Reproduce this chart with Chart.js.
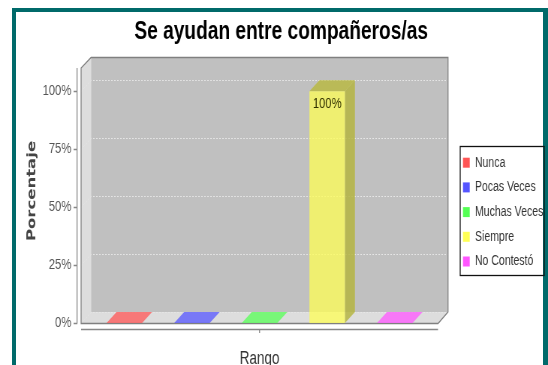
<!DOCTYPE html>
<html lang="es">
<head>
<meta charset="UTF-8" />
<title>Se ayudan entre compañeros/as</title>
<script src="https://cdn.jsdelivr.net/npm/chart.js@4.4.0/dist/chart.umd.min.js"></script>
<style>
html,body{margin:0;background:#fff;overflow:hidden}
#frame{position:absolute;left:12px;top:8px;width:527px;height:400px;border:4px solid #006a6a;border-right-width:5px}
#wrap{position:absolute;left:0;top:0;width:548px;height:365px}
/* the picture is a wider chart squeezed sideways, so the canvas is too */
#chart{width:548px!important;height:365px!important}
</style>
</head>
<body>
<div id="frame"></div>
<div id="wrap"><canvas id="chart" width="730" height="365"></canvas></div>
<script>
const categories = ['Rango'];
const seriesNames = ['Nunca','Pocas Veces','Muchas Veces','Siempre','No Contestó'];
const seriesValues = [0,0,0,100,0];
const seriesColors = ['#ff5555','#5555ff','#55ff55','#ffff55','#ff55ff'];
const barColors = ['rgba(255,85,85,.75)','rgba(85,85,255,.75)','rgba(85,255,85,.75)','rgba(255,255,85,.75)','rgba(255,85,255,.75)'];

const FONT = '"Liberation Sans",Arial,sans-serif';
const DX = 13.3, DY = 11; // 3d offset of the back wall

/* walls, floor and axis lines, drawn from the scales */
const box3d = {
  id:'box3d',
  afterLayout(chart){
    // title sits a bit right of the canvas centre, legend is outside the plot
    chart.titleBlock.left = 19; chart.titleBlock.right = 730;
    const lg = chart.legend;
    lg.left = 606; lg.right = 726; lg.top = 145; lg.bottom = 300;
    // only the axis titles read these, ticks keep their own pixels
    chart.scales.y.bottom -= 9;
    chart.scales.x.bottom += 5;
  },
  beforeDatasetsDraw(chart){
    const {ctx,chartArea:a,scales:{x,y}} = chart;
    const y0 = y.getPixelForValue(0);
    ctx.save();
    // left wall + floor
    ctx.fillStyle = '#dddddd';
    ctx.beginPath();
    ctx.moveTo(a.left,a.top); ctx.lineTo(a.left+DX,a.top-DY); ctx.lineTo(a.left+DX,y0-DY);
    ctx.lineTo(a.right+DX,y0-DY); ctx.lineTo(a.right,y0); ctx.lineTo(a.left,y0);
    ctx.closePath(); ctx.fill();
    // back wall
    ctx.fillStyle = '#c0c0c0';
    ctx.fillRect(a.left+DX,a.top-DY,a.right-a.left,y0-a.top);
    // grid
    ctx.strokeStyle = '#e6e6e6'; ctx.lineWidth = 1; ctx.setLineDash([2,2]);
    y.ticks.forEach(t=>{
      const p = Math.round(y.getPixelForValue(t.value))+.5;
      ctx.beginPath(); ctx.moveTo(a.left,p); ctx.lineTo(a.left+DX,p-DY); ctx.lineTo(a.right+DX,p-DY); ctx.stroke();
    });
    ctx.setLineDash([]);
    // edges
    ctx.strokeStyle = '#808080'; ctx.lineWidth = 1.3;
    ctx.beginPath();
    ctx.moveTo(a.left,y0+.5); ctx.lineTo(a.left,a.top); ctx.lineTo(a.left+DX,a.top-DY+.5);
    ctx.lineTo(a.right+DX,a.top-DY+.5); ctx.lineTo(a.right+DX,y0-DY); ctx.lineTo(a.right,y0+.5); ctx.closePath();
    ctx.stroke();
    // axis lines, set off from the box
    ctx.strokeStyle = '#888888';
    ctx.beginPath();
    ctx.moveTo(a.left-5.4,a.top); ctx.lineTo(a.left-5.4,y0+.5);
    y.ticks.forEach(t=>{
      const p = Math.round(y.getPixelForValue(t.value))+.5;
      ctx.moveTo(a.left-10,p); ctx.lineTo(a.left-5,p);
    });
    ctx.moveTo(a.left,y0+6.5); ctx.lineTo(a.right,y0+6.5);
    const cx = x.getPixelForTick(0);
    ctx.moveTo(cx,y0+6); ctx.lineTo(cx,y0+10);
    ctx.stroke();
    // bar tops and sides
    chart.data.datasets.forEach((ds,i)=>{
      const b = chart.getDatasetMeta(i).data[0], l = b.x-b.width/2, r = b.x+b.width/2;
      ctx.fillStyle = ds.backgroundColor;
      ctx.beginPath();
      ctx.moveTo(l,b.y); ctx.lineTo(r,b.y); ctx.lineTo(r+DX,b.y-DY); ctx.lineTo(l+DX,b.y-DY); ctx.closePath();
      ctx.fill();
      if(b.base-b.y>0){
        ctx.fillStyle = 'rgba(0,0,0,.22)'; ctx.fill();
        ctx.beginPath();
        ctx.moveTo(r,b.y); ctx.lineTo(r+DX,b.y-DY); ctx.lineTo(r+DX,b.base-DY); ctx.lineTo(r,b.base); ctx.closePath();
        ctx.fillStyle = ds.backgroundColor; ctx.fill();
        ctx.fillStyle = 'rgba(0,0,0,.24)'; ctx.fill();
      }
    });
    ctx.restore();
  },
  afterDatasetsDraw(chart){
    // value label under the top of the non-empty bar
    const {ctx} = chart;
    ctx.save();
    ctx.font = '15px '+FONT; ctx.fillStyle = '#333300';
    ctx.textAlign = 'center'; ctx.textBaseline = 'middle';
    chart.data.datasets.forEach((ds,i)=>{
      if(!ds.data[0]) return;
      const b = chart.getDatasetMeta(i).data[0];
      ctx.fillText(ds.data[0]+'%',b.x,b.y+13);
    });
    ctx.restore();
  },
  afterDraw(chart){
    const {ctx} = chart;
    ctx.save();
    ctx.strokeStyle = '#111'; ctx.lineWidth = 1.3;
    ctx.strokeRect(613,146.5,112,129);
    ctx.restore();
  }
};

new Chart(document.getElementById('chart'),{
  type:'bar',
  data:{
    labels:categories,
    datasets:seriesNames.map((n,i)=>({label:n,data:[seriesValues[i]],backgroundColor:barColors[i],
      categoryPercentage:.947,barPercentage:.525,clip:false}))
  },
  options:{
    responsive:false,animation:false,devicePixelRatio:1,
    layout:{padding:{right:146.5}},
    plugins:{
      tooltip:{enabled:false},
      title:{display:true,text:'Se ayudan entre compañeros/as',color:'#000',
        font:{family:FONT,size:25.5,weight:'bold'},padding:{top:16.7,bottom:20.7}},
      legend:{position:'chartArea',align:'start',onClick:null,
        labels:{boxWidth:9,boxHeight:10,padding:10.7,color:'#333',font:{family:FONT,size:14},
          generateLabels:c=>c.data.datasets.map((ds,i)=>({text:ds.label,fillStyle:seriesColors[i],
            strokeStyle:seriesColors[i],lineWidth:0,datasetIndex:i,fontColor:'#333'}))}}
    },
    scales:{
      x:{grid:{display:false},border:{display:false},ticks:{display:false},
        afterFit(s){s.height=42;},
        title:{display:true,text:'Rango',color:'#333',font:{family:FONT,size:18},padding:{top:0,bottom:0}}},
      y:{min:0,max:110,grid:{display:false,drawTicks:false},border:{display:false},
        afterFit(s){s.width=108;},
        ticks:{stepSize:25,includeBounds:false,padding:13,color:'#555',font:{family:FONT,size:15},callback:v=>v+'%'},
        title:{display:true,text:'Porcentaje',color:'#444',font:{family:'"DejaVu Sans"',size:16.5,weight:'bold'},padding:{top:32.7,bottom:0}}}
    }
  },
  plugins:[box3d]
});
</script>
</body>
</html>
